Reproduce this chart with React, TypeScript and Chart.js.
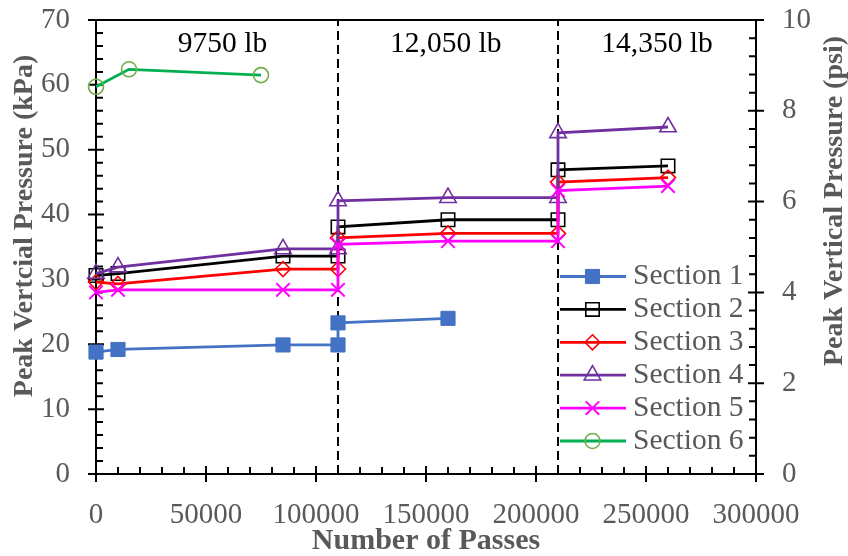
import React, { useEffect, useRef } from 'react';
import { Chart, registerables } from 'chart.js';
import { drawPoint } from 'chart.js/helpers';

Chart.register(...registerables);

// Number of passes at each reading
const passesSection1 = [0, 10000, 85000, 110000, 110000, 160000];
const passesFull = [0, 10000, 85000, 110000, 110000, 160000, 210000, 210000, 260000];
const passesSection6 = [0, 15000, 75000];

// Peak vertical pressure (kPa)
const section1 = [18.8, 19.2, 19.9, 19.9, 23.3, 24.0];
const section2 = [30.6, 30.9, 33.6, 33.6, 38.1, 39.2, 39.2, 46.9, 47.5];
const section3 = [29.6, 29.3, 31.6, 31.6, 36.4, 37.1, 37.1, 45.0, 45.7];
const section4 = [30.9, 31.9, 34.7, 34.7, 42.1, 42.6, 42.6, 52.6, 53.5];
const section5 = [28.0, 28.4, 28.4, 28.4, 35.4, 35.9, 35.9, 43.7, 44.4];
const section6 = [59.7, 62.4, 61.5];

const sectionNames = ['Section 1', 'Section 2', 'Section 3', 'Section 4', 'Section 5', 'Section 6'];

// Passes at which the wheel load was increased
const loadChangePasses = [110000, 210000];
const loadLabels = ['9750 lb', '12,050 lb', '14,350 lb'];
const loadLabelPasses = [57500, 159000, 255000];
const loadLabelPressure = 66.3;

// Axis ranges
const passesMax = 300000;
const kpaMax = 70;
const psiMax = 10;

const FONT = "'Liberation Serif', 'Times New Roman', serif";
const GRAY = '#595959';

type SeriesStyle = {
  line: string;
  pointStyle: any;
  radius: number;
  pointBorder: string;
  pointFill: string;
  pointBorderWidth: number;
};

const styles: SeriesStyle[] = [
  { line: '#4472C4', pointStyle: 'rect', radius: 10, pointBorder: '#4472C4', pointFill: '#4472C4', pointBorderWidth: 1 },
  { line: '#000000', pointStyle: 'rect', radius: 9.5, pointBorder: '#000000', pointFill: 'rgba(0,0,0,0)', pointBorderWidth: 1.6 },
  { line: '#FF0000', pointStyle: 'rectRot', radius: 7.5, pointBorder: '#FF0000', pointFill: 'rgba(0,0,0,0)', pointBorderWidth: 1.6 },
  { line: '#7030A0', pointStyle: 'triangle', radius: 9.5, pointBorder: '#7030A0', pointFill: 'rgba(0,0,0,0)', pointBorderWidth: 1.6 },
  { line: '#FF00FF', pointStyle: 'crossRot', radius: 9.5, pointBorder: '#FF00FF', pointFill: 'rgba(0,0,0,0)', pointBorderWidth: 2 },
  { line: '#00B050', pointStyle: 'circle', radius: 7.5, pointBorder: '#70AD47', pointFill: 'rgba(0,0,0,0)', pointBorderWidth: 1.6 },
];

const seriesData = [
  [passesSection1, section1],
  [passesFull, section2],
  [passesFull, section3],
  [passesFull, section4],
  [passesFull, section5],
  [passesSection6, section6],
];

const toPoints = (xs: number[], ys: number[]) => xs.map((x, i) => ({ x, y: ys[i] }));

// Box frame with crossing major ticks and inward minor ticks
const framePlugin = {
  id: 'frame',
  beforeDatasetsDraw(chart: any) {
    const { ctx, chartArea: a, scales } = chart;
    const sx = scales.x;
    const sy = scales.y;
    const sy2 = scales.y2;
    ctx.save();
    ctx.strokeStyle = '#000';
    ctx.lineWidth = 2;
    ctx.strokeRect(a.left, a.top, a.right - a.left, a.bottom - a.top);
    ctx.beginPath();
    for (let v = 0; v <= passesMax; v += 10000) {
      const px = sx.getPixelForValue(v);
      if (v % 50000 === 0) {
        ctx.moveTo(px, a.bottom - 8);
        ctx.lineTo(px, a.bottom + 8);
      } else {
        ctx.moveTo(px, a.bottom - 7);
        ctx.lineTo(px, a.bottom);
      }
    }
    for (let v = 0; v <= kpaMax; v += 2) {
      const py = sy.getPixelForValue(v);
      if (v % 10 === 0) {
        ctx.moveTo(a.left - 8, py);
        ctx.lineTo(a.left + 8, py);
      } else {
        ctx.moveTo(a.left, py);
        ctx.lineTo(a.left + 7, py);
      }
    }
    for (let k = 0; k <= 25; k++) {
      const py = sy2.getPixelForValue((k * psiMax) / 25);
      if (k % 5 === 0) {
        ctx.moveTo(a.right - 8, py);
        ctx.lineTo(a.right + 8, py);
      } else {
        ctx.moveTo(a.right - 7, py);
        ctx.lineTo(a.right, py);
      }
    }
    ctx.stroke();
    ctx.restore();
  },
};

// Load labels, legend and axis titles
const overlayPlugin = {
  id: 'overlay',
  afterDraw(chart: any) {
    const { ctx, chartArea: a, scales } = chart;
    ctx.save();

    // wheel load labels
    ctx.fillStyle = '#000';
    ctx.font = `29.5px ${FONT}`;
    ctx.textAlign = 'center';
    ctx.textBaseline = 'middle';
    loadLabels.forEach((t, i) => {
      ctx.fillText(t, scales.x.getPixelForValue(loadLabelPasses[i]), scales.y.getPixelForValue(loadLabelPressure));
    });

    // legend
    const lx0 = a.right - 196;
    const lx1 = a.right - 130;
    const mx = a.right - 163.5;
    const tx = a.right - 123;
    ctx.textAlign = 'left';
    ctx.font = `29.5px ${FONT}`;
    sectionNames.forEach((name, i) => {
      const s = styles[i];
      const ry = a.top + 256.5 + i * 32.9;
      ctx.strokeStyle = s.line;
      ctx.lineWidth = 2.8;
      ctx.beginPath();
      ctx.moveTo(lx0, ry);
      ctx.lineTo(lx1, ry);
      ctx.stroke();
      ctx.fillStyle = s.pointFill;
      ctx.strokeStyle = s.pointBorder;
      ctx.lineWidth = s.pointBorderWidth;
      drawPoint(ctx, { pointStyle: s.pointStyle, rotation: 0, radius: s.radius, borderWidth: s.pointBorderWidth } as any, mx, ry);
      ctx.fillStyle = GRAY;
      ctx.fillText(name, tx, ry);
    });

    // axis titles
    ctx.fillStyle = GRAY;
    ctx.textAlign = 'center';
    ctx.textBaseline = 'middle';
    ctx.font = `bold 30px ${FONT}`;
    ctx.fillText('Number of Passes', (a.left + a.right) / 2, 541);

    ctx.font = `bold 28px ${FONT}`;
    ctx.save();
    ctx.translate(25, 226);
    ctx.rotate(-Math.PI / 2);
    ctx.fillText('Peak Vertcial Pressure (kPa)', 0, 0);
    ctx.restore();

    ctx.save();
    ctx.translate(835, 201);
    ctx.rotate(-Math.PI / 2);
    ctx.fillText('Peak Vertical Pressure (psi)', 0, 0);
    ctx.restore();

    ctx.restore();
  },
};

const noEdgePadding = (scale: any) => {
  scale.paddingTop = 0;
  scale.paddingBottom = 0;
  scale.paddingLeft = 0;
  scale.paddingRight = 0;
};

export default function App() {
  const canvasRef = useRef<HTMLCanvasElement>(null);

  useEffect(() => {
    const canvas = canvasRef.current;
    if (!canvas) return;

    const sectionSets = seriesData.map(([xs, ys], i) => {
      const s = styles[i];
      return {
        label: sectionNames[i],
        data: toPoints(xs, ys),
        borderColor: s.line,
        backgroundColor: s.line,
        borderWidth: 2.8,
        pointStyle: s.pointStyle,
        pointRadius: s.radius,
        pointBorderColor: s.pointBorder,
        pointBackgroundColor: s.pointFill,
        pointBorderWidth: s.pointBorderWidth,
        tension: 0,
        clip: false as any,
        order: 10 - i,
        yAxisID: 'y',
      };
    });

    const dividerSets = loadChangePasses.map((p) => ({
      label: 'load change',
      data: [
        { x: p, y: 0 },
        { x: p, y: kpaMax },
      ],
      borderColor: '#000',
      borderWidth: 2,
      borderDash: [9, 5],
      pointRadius: 0,
      tension: 0,
      order: 100,
      yAxisID: 'y',
    }));

    const tickFont = { family: FONT, size: 29 };

    const chart = new Chart(canvas, {
      type: 'line',
      data: { datasets: [...sectionSets, ...dividerSets] as any },
      plugins: [framePlugin, overlayPlugin],
      options: {
        responsive: false,
        animation: false,
        events: [],
        layout: { padding: { top: 20, left: 0, right: 0, bottom: 0 } },
        plugins: {
          legend: { display: false },
          tooltip: { enabled: false },
        },
        scales: {
          x: {
            type: 'linear',
            min: 0,
            max: passesMax,
            grid: { display: false, drawTicks: false },
            border: { display: false },
            ticks: {
              stepSize: 50000,
              color: GRAY,
              font: tickFont,
              padding: 24,
              maxRotation: 0,
              callback: (v: any) => String(v),
            },
            afterFit: (scale: any) => {
              scale.height = 82;
              noEdgePadding(scale);
            },
          },
          y: {
            type: 'linear',
            position: 'left',
            min: 0,
            max: kpaMax,
            grid: { display: false, drawTicks: false },
            border: { display: false },
            ticks: { stepSize: 10, color: GRAY, font: tickFont, padding: 26 },
            afterFit: (scale: any) => {
              scale.width = 96;
              noEdgePadding(scale);
            },
          },
          y2: {
            type: 'linear',
            position: 'right',
            min: 0,
            max: psiMax,
            grid: { display: false, drawTicks: false },
            border: { display: false },
            ticks: { stepSize: 2, color: GRAY, font: tickFont, padding: 26 },
            afterFit: (scale: any) => {
              scale.width = 92;
              noEdgePadding(scale);
            },
          },
        },
      } as any,
    });

    return () => chart.destroy();
  }, []);

  return (
    <div style={{ position: 'fixed', left: 0, top: 0, width: 848, height: 556, background: '#fff' }}>
      <canvas ref={canvasRef} width={848} height={556} style={{ display: 'block', width: 848, height: 556 }} />
    </div>
  );
}
